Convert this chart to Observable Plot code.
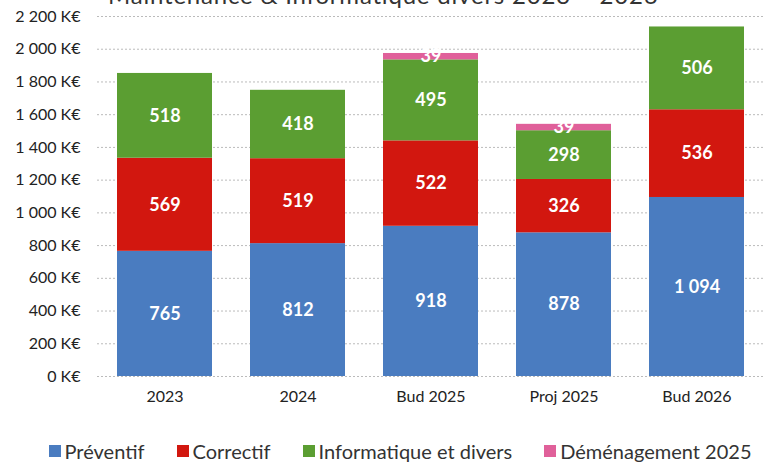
<!DOCTYPE html>
<html>
<head>
<meta charset="utf-8">
<script src="https://cdn.jsdelivr.net/npm/d3@7"></script>
<script src="https://cdn.jsdelivr.net/npm/@observablehq/plot@0.6"></script>
<style>
  html, body { margin: 0; padding: 0; background: white; overflow: hidden; }
  body { width: 764px; height: 463px; position: relative; font-family: Lato, "Open Sans", sans-serif; }
  #title { position: absolute; left: 108px; top: -17px; font-size: 24px; line-height: 24px; letter-spacing: 0.8px; color: #333; white-space: nowrap; z-index: 2; }
  #chart { position: absolute; left: 0; top: 0; z-index: 1; }
  #legend { position: absolute; left: 0; top: 440px; width: 764px; padding-left: 36px; box-sizing: border-box; display: flex; justify-content: center; font-size: 20px; line-height: 22px; color: #333; white-space: nowrap; }
  .item { display: flex; align-items: center; margin: 0 16px; }
  .sw { width: 12px; height: 12px; margin-right: 4px; }
</style>
</head>
<body>
<div id="title">Maintenance &amp; Informatique divers 2023 – 2026</div>
<div id="chart"></div>
<div id="legend"></div>
<script>
const categories = ["2023", "2024", "Bud 2025", "Proj 2025", "Bud 2026"];
const seriesNames = ["Préventif", "Correctif", "Informatique et divers", "Déménagement 2025"];
const preventif = [765, 812, 918, 878, 1094];
const correctif = [569, 519, 522, 326, 536];
const informatique = [518, 418, 495, 298, 506];
const demenagement = [0, 0, 39, 39, 0];
const colors = ["#4a7cc0", "#d2170f", "#5b9e32", "#e0609a"];
const yTicks = [0, 200, 400, 600, 800, 1000, 1200, 1400, 1600, 1800, 2000, 2200];

const seriesValues = [preventif, correctif, informatique, demenagement];
const data = [];
categories.forEach((c, i) => {
  seriesNames.forEach((s, j) => {
    const v = seriesValues[j][i];
    if (v > 0) data.push({cat: c, series: s, value: v});
  });
});

const fmt = v => d3.format(",")(v).replace(/,/g, " ");

const chart = Plot.plot({
  width: 764,
  height: 420,
  marginTop: 16,
  marginBottom: 44,
  marginLeft: 97,
  marginRight: 0,
  style: {fontFamily: "Lato, 'Open Sans', sans-serif", fontSize: "16px", color: "#222", background: "transparent", overflow: "visible"},
  x: {domain: categories, paddingInner: 0.284, paddingOuter: 0.134, label: null},
  y: {domain: [0, 2200], ticks: yTicks, label: null},
  color: {domain: seriesNames, range: colors},
  marks: [
    Plot.gridY(yTicks, {stroke: "#bbb", strokeOpacity: 1, strokeDasharray: "2,2"}),
    Plot.barY(data, {x: "cat", y: "value", fill: "series", order: seriesNames}),
    Plot.text(data, Plot.stackY({x: "cat", y: "value", z: "series", order: seriesNames, text: d => fmt(d.value), fill: "white", fontWeight: "bold", fontSize: 18})),
    Plot.axisY(yTicks, {tickSize: 0, tickPadding: 17, tickFormat: d => fmt(d) + " K€", fontSize: 16}),
    Plot.axisX({tickSize: 0, tickPadding: 14, fontSize: 16})
  ]
});
document.getElementById("chart").appendChild(chart);

const legend = document.getElementById("legend");
seriesNames.forEach((s, j) => {
  const item = document.createElement("div");
  item.className = "item";
  const sw = document.createElement("div");
  sw.className = "sw";
  sw.style.background = colors[j];
  const t = document.createElement("span");
  t.textContent = s;
  item.appendChild(sw);
  item.appendChild(t);
  legend.appendChild(item);
});
</script>
</body>
</html>
